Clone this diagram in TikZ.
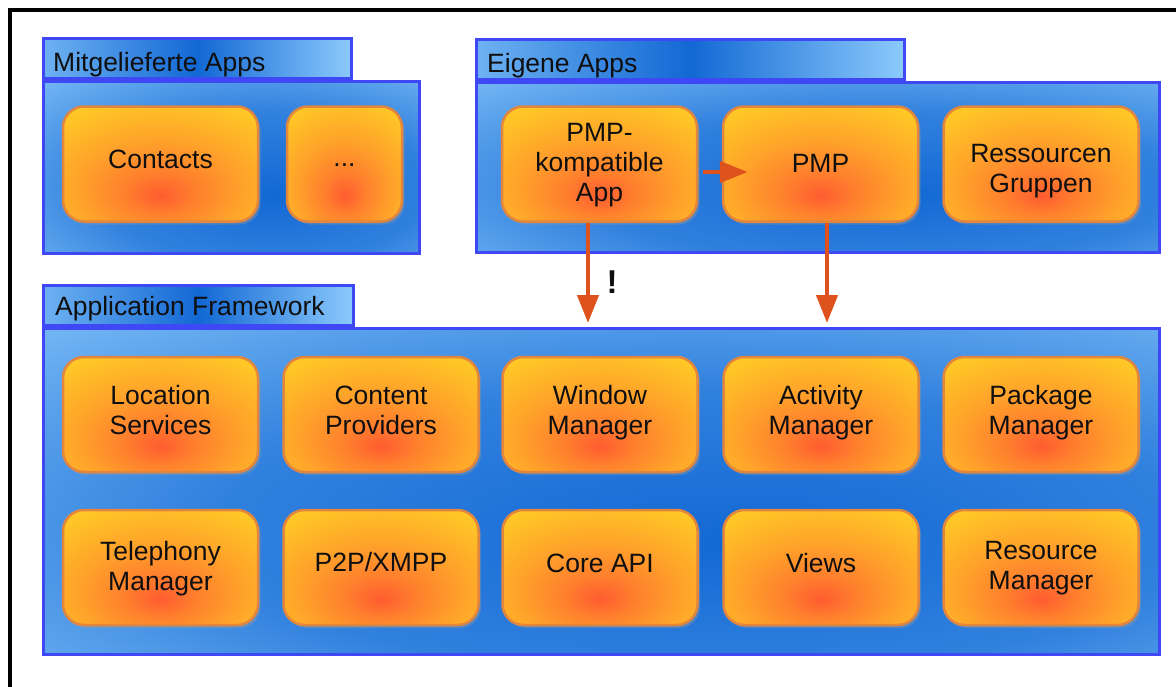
\documentclass[tikz,border=0pt]{standalone}
\usepackage{fontspec}
\setmainfont{Liberation Sans}
\usetikzlibrary{arrows.meta,shadows}
\definecolor{blueL}{RGB}{140,202,252}
\definecolor{blueD}{RGB}{18,104,212}
\definecolor{blueB}{RGB}{62,72,245}
\definecolor{boxY}{RGB}{255,216,36}
\definecolor{boxO}{RGB}{255,162,42}
\definecolor{boxR}{RGB}{255,92,48}
\definecolor{boxB}{RGB}{226,134,62}
\definecolor{arrC}{RGB}{222,82,30}
\definecolor{txtC}{RGB}{15,15,15}
\pgfdeclareradialshading{boxsh}{\pgfpoint{0bp}{-14bp}}{color(0bp)=(boxR); color(9bp)=(boxR!50!boxO); color(21bp)=(boxO); color(35bp)=(boxY!60!boxO); color(48bp)=(boxY); color(90bp)=(boxY)}
\pgfdeclareradialshading{panelsh}{\pgfpoint{6bp}{-8bp}}{color(0bp)=(blueD); color(22bp)=(blueD!75!blueL); color(48bp)=(blueL); color(90bp)=(blueL)}
\newcommand\bxfont{\fontsize{26.5}{30}\selectfont}
\begin{document}
\begin{tikzpicture}[x=1pt,y=-1pt,
  panel/.style={draw=blueB, line width=3pt, shade, shading=panelsh, inner sep=0pt, anchor=north west},
  tab/.style={draw=blueB, line width=3pt, left color=blueL!75!blueD, right color=blueL, middle color=blueD, inner sep=0pt, anchor=south west, minimum height=40pt},
  tabtext/.style={font=\bxfont, text=txtC, anchor=base west, inner sep=0pt},
  lbl/.style={font=\bxfont, text=txtC, align=center, inner sep=0pt},
  appbox/.style 2 args={draw=boxB, line width=2.5pt, rounded corners=21pt, shade, shading=boxsh,
    minimum width=195pt, minimum height=115pt, inner sep=0pt,
    drop shadow={shadow xshift=2.5pt, shadow yshift=-3pt, fill=black!40, opacity=0.4},
    label={[lbl, yshift=#2pt]center:{#1}}},
  arr/.style={draw=arrC, line width=4.5pt, -{Triangle[length=28pt,width=21pt]}}
]
\useasboundingbox (0,0) rectangle (1176,686);
\fill[white] (0,0) rectangle (1176,686);
\draw[line width=4pt] (10,9.5) rectangle (1200,720);

% Mitgelieferte Apps
\node[tab, minimum width=308pt] (mitt) at (42,80) {};
\node[panel, minimum width=376pt, minimum height=172pt] (mitb) at (42,80) {};
\node[tabtext] (mittx) at (53,71) {Mitgelieferte Apps};
\node[appbox={Contacts}{4.5}] (contacts) at (160.5,164) {};
\node[appbox={...}{-1}, minimum width=115pt] (dots) at (344.5,164) {};

% Eigene Apps
\node[tab, minimum width=428pt] (eigt) at (475,81) {};
\node[panel, minimum width=683pt, minimum height=170pt] (eigb) at (475,81) {};
\node[tabtext] (eigtx) at (487,72) {Eigene Apps};
\node[appbox={PMP-\\kompatible\\App}{-1}] (pkapp) at (599.5,164) {};
\node[appbox={PMP}{1}] (pmp) at (820.5,164) {};
\node[appbox={Ressourcen\\Gruppen}{-7}] (resgr) at (1041,164) {};

% Application Framework
\node[tab, minimum width=310pt] (aft) at (42,327) {};
\node[panel, minimum width=1116pt, minimum height=326pt] (afb) at (42,327) {};
\node[tabtext] (aftx) at (55,315) {Application Framework};

\node[appbox={Location\\Services}{4.5}] (loc) at (160.5,414.5) {};
\node[appbox={Content\\Providers}{4.5}] (cont) at (381,414.5) {};
\node[appbox={Window\\Manager}{2}] (win) at (600,414.5) {};
\node[appbox={Activity\\Manager}{2}] (act) at (821,414.5) {};
\node[appbox={Package\\Manager}{2}] (pkg) at (1041,414.5) {};

\node[appbox={Telephony\\Manager}{-1}] (tel) at (160.5,567.5) {};
\node[appbox={P2P/XMPP}{5}] (p2p) at (381,567.5) {};
\node[appbox={Core API}{4.5}] (core) at (600,567.5) {};
\node[appbox={Views}{4.5}] (views) at (821,567.5) {};
\node[appbox={Resource\\Manager}{-1}] (resm) at (1041,567.5) {};

% arrows
\draw[arr] ([xshift=5pt,yshift=-8pt]pkapp.east) -- ([xshift=26pt,yshift=-8pt]pmp.west);
\coordinate (t1) at (588,323);
\coordinate (t2) at (827,323);
\draw[arr] ([xshift=-11.5pt]pkapp.south) -- (t1);
\draw[arr] ([xshift=6.5pt]pmp.south) -- (t2);
\node[font=\bfseries\fontsize{33}{36}\selectfont, text=txtC] (excl) at (612,282) {!};
\end{tikzpicture}
\end{document}
